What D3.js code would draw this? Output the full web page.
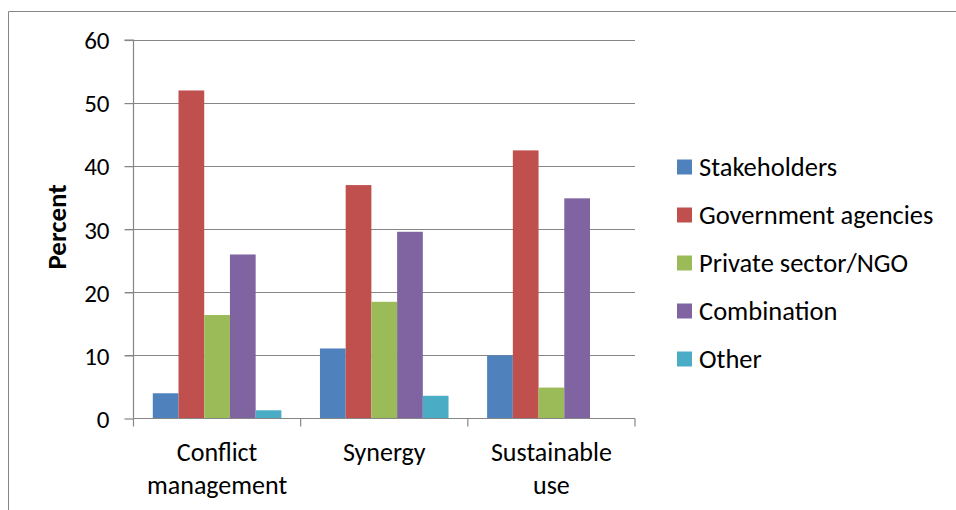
<!DOCTYPE html>
<html><head><meta charset="utf-8">
<script src="https://cdn.jsdelivr.net/npm/d3@7"></script>
<style>body{margin:0;background:#fff}svg{display:block}text{font-family:Carlito,Calibri,"Open Sans",sans-serif;fill:#000}</style>
</head><body>
<script>
const categories = [["Conflict","management"],["Synergy"],["Sustainable","use"]];
const categoryKeys = ["Conflict management","Synergy","Sustainable use"];
const seriesNames = ["Stakeholders","Government agencies","Private sector/NGO","Combination","Other"];
const stakeholders = [4.0, 11.1, 10.0];
const government = [52.0, 37.0, 42.5];
const privateNgo = [16.4, 18.5, 4.9];
const combination = [26.0, 29.6, 34.9];
const other = [1.3, 3.6, 0];
const yTicks = [0,10,20,30,40,50,60];
const colors = ["#4F81BD","#C0504D","#9BBB59","#8064A2","#4BACC6"];

const seriesValues = [stakeholders, government, privateNgo, combination, other];
const W=956,H=510;
const svg=d3.select("body").append("svg").attr("width",W).attr("height",H);
svg.append("path").attr("d","M8.5,510 V11.5 H956").attr("fill","none").attr("stroke","#868686").attr("stroke-width",1);

const x0=133.5,x1=635,yTop=40,yBot=418.5;
const x=d3.scaleBand().domain(categoryKeys).range([x0,x1]).paddingInner(0).paddingOuter(0);
const xs=d3.scaleBand().domain(seriesNames).range([0,x.bandwidth()]).paddingInner(0).paddingOuter(0.75);
const y=d3.scaleLinear().domain([0,60]).range([yBot,yTop]);

const g=svg.append("g");
g.selectAll("line.grid").data(yTicks.filter(t=>t>0)).join("line")
 .attr("x1",125).attr("x2",x1).attr("y1",d=>Math.round(y(d))+0.5).attr("y2",d=>Math.round(y(d))+0.5)
 .attr("stroke","#868686").attr("stroke-width",1.2);
seriesNames.forEach((s,i)=>{
  g.selectAll(null).data(categoryKeys.map((c,j)=>({c,v:seriesValues[i][j]})).filter(d=>d.v>0)).join("rect")
   .attr("x",d=>x(d.c)+xs(s)).attr("width",xs.bandwidth())
   .attr("y",d=>y(d.v)).attr("height",d=>y(0)-y(d.v))
   .attr("fill",colors[i]);
});
const yAxis=d3.axisLeft(y).tickValues(yTicks).tickSize(9).tickPadding(15).tickFormat(d3.format("d"));
const ya=svg.append("g").attr("transform",`translate(${x0},0)`).call(yAxis);
ya.select(".domain").attr("stroke","#868686").attr("stroke-width",1.2).attr("d",`M-9,${yTop}H0V${yBot}`);
ya.selectAll(".tick line").attr("stroke","#868686").attr("stroke-width",1.2);
ya.selectAll(".tick text").style("font-size","25px").attr("fill","#000").attr("dy","0.35em");
const xa=svg.append("g").attr("transform",`translate(0,${yBot})`);
xa.append("line").attr("x1",x0).attr("x2",x1).attr("y1",0).attr("y2",0).attr("stroke","#868686").attr("stroke-width",1.2);
const bounds=[x0,...categoryKeys.map(c=>x(c)+x.bandwidth())];
xa.selectAll("line.t").data(bounds).join("line").attr("x1",d=>d).attr("x2",d=>d).attr("y1",0).attr("y2",8)
 .attr("stroke","#868686").attr("stroke-width",1.2);
categoryKeys.forEach((c,j)=>{
  const t=xa.append("text").attr("text-anchor","middle").attr("x",x(c)+x.bandwidth()/2).style("font-size","26px");
  categories[j].forEach((ln,k)=>t.append("tspan").attr("x",x(c)+x.bandwidth()/2).attr("y",42+k*33).text(ln));
});
svg.append("text").attr("transform","translate(66,227) rotate(-90)").attr("text-anchor","middle")
 .style("font-size","27px").style("font-weight","bold").text("Percent");
const lg=svg.append("g");
seriesNames.forEach((s,i)=>{
  const cy=167+i*48;
  lg.append("rect").attr("x",677).attr("y",cy-7.5).attr("width",15).attr("height",15).attr("fill",colors[i]);
  lg.append("text").attr("x",699).attr("y",cy).attr("dy","0.35em").style("font-size","26.5px").text(s);
});
</script>
</body></html>
